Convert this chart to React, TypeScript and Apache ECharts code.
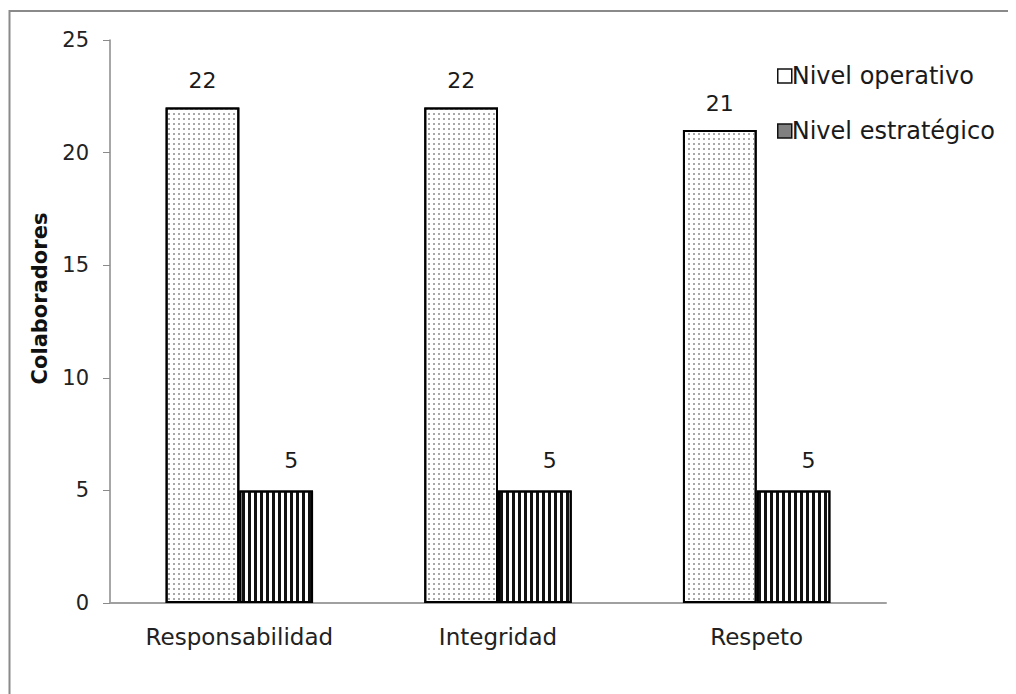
import React, { useEffect, useRef } from "react";
import * as echarts from "echarts";

const categories = ["Responsabilidad", "Integridad", "Respeto"];
const seriesNames = ["Nivel operativo", "Nivel estratégico"];
const operativo = [22, 22, 21];
const estrategico = [5, 5, 5];
const yTicks = { min: 0, max: 25, interval: 5 };

const FONT = "'DejaVu Sans', 'Open Sans', sans-serif";

export default function App() {
  const ref = useRef<HTMLDivElement>(null);
  useEffect(() => {
    if (!ref.current) return;
    const chart = echarts.init(ref.current, null, { renderer: "svg" });
    chart.setOption({
      animation: false,
      backgroundColor: "#ffffff",
      textStyle: { fontFamily: FONT },
      graphic: [
        { type: "line", shape: { x1: 1, y1: 3, x2: 1100, y2: 3 }, style: { stroke: "#8a8a8a", lineWidth: 2 } },
        { type: "line", shape: { x1: 1.5, y1: 2, x2: 1.5, y2: 800 }, style: { stroke: "#8a8a8a", lineWidth: 2 } },
      ],
      legend: {
        orient: "vertical",
        left: 764,
        top: 50,
        itemGap: 29,
        itemWidth: 14,
        itemHeight: 14,
        icon: "rect",
        textStyle: { fontSize: 24, color: "#1a1a1a", fontFamily: FONT, lineHeight: 26, padding: [0, 0, 0, -5] },
        data: [
          { name: seriesNames[0], itemStyle: { color: "#ffffff", borderColor: "#111", borderWidth: 1.5, decal: "none" } },
          { name: seriesNames[1], itemStyle: { color: "#808080", borderColor: "#111", borderWidth: 1.5, decal: "none" } },
        ],
      },
      grid: { left: 102, right: 130, top: 32, bottom: 91 },
      xAxis: {
        type: "category",
        data: categories,
        axisLine: { lineStyle: { color: "#a0a0a0", width: 2 } },
        axisTick: { show: false },
        axisLabel: { fontSize: 23, color: "#222", margin: 22, fontFamily: FONT },
      },
      yAxis: {
        type: "value",
        min: yTicks.min,
        max: yTicks.max,
        interval: yTicks.interval,
        name: "Colaboradores",
        nameLocation: "middle",
        nameGap: 60,
        nameTextStyle: { fontSize: 21, fontWeight: "bold", color: "#111", fontFamily: FONT, padding: [0, 0, 0, 46] },
        axisLine: { show: true, lineStyle: { color: "#8a8a8a", width: 1.5 } },
        axisTick: { show: true, length: 7, lineStyle: { color: "#8a8a8a" } },
        splitLine: { show: false },
        axisLabel: { fontSize: 21, color: "#222", margin: 21, fontFamily: FONT },
      },
      series: [
        {
          name: seriesNames[0],
          type: "bar",
          data: operativo,
          barGap: "0%",
          barCategoryGap: "43%",
          itemStyle: {
            color: "#ffffff",
            borderColor: "#000",
            borderWidth: 2,
            decal: {
              symbol: "rect",
              symbolSize: 1,
              dashArrayX: [1.5, 3],
              dashArrayY: [1.5, 3],
              color: "#a8a8a8",
            },
          },
          label: { show: true, position: "top", distance: 16, fontSize: 22, color: "#1a1a1a", fontFamily: FONT },
        },
        {
          name: seriesNames[1],
          type: "bar",
          data: estrategico,
          itemStyle: {
            color: "#ffffff",
            borderColor: "#000",
            borderWidth: 2,
            decal: {
              symbol: "rect",
              symbolSize: 1,
              dashArrayX: [2.5, 2.4],
              dashArrayY: [10, 0],
              color: "#111",
            },
          },
          label: { show: true, position: "top", distance: 19, offset: [15, 0], fontSize: 22, color: "#1a1a1a", fontFamily: FONT },
        },
      ],
    });
    return () => chart.dispose();
  }, []);
  return <div ref={ref} style={{ width: 1008, height: 686 }} />;
}
